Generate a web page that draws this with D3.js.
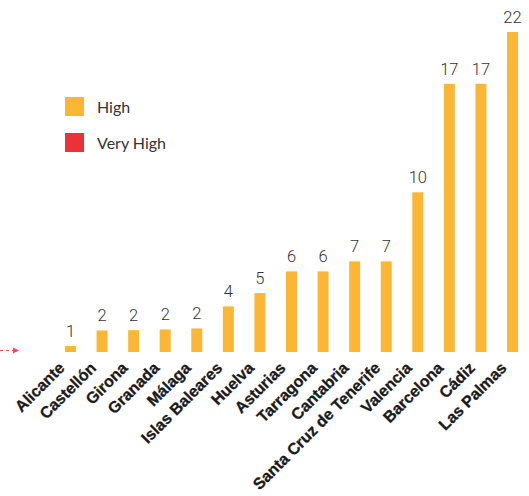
<!DOCTYPE html>
<html>
<head>
<meta charset="utf-8">
<script src="https://cdn.jsdelivr.net/npm/d3@7"></script>
<style>
  body { margin: 0; background: #fff; }
  #chart { width: 529px; height: 496px; }
</style>
</head>
<body>
<div id="chart"></div>
<script>
// provinces, the count printed over each bar, and the bar height as drawn
const provinces = ['Alicante', 'Castellón', 'Girona', 'Granada', 'Málaga', 'Islas Baleares', 'Huelva',
    'Asturias', 'Tarragona', 'Cantabria', 'Santa Cruz de Tenerife', 'Valencia', 'Barcelona', 'Cádiz', 'Las Palmas'];
const counts = [1, 2, 2, 2, 2, 4, 5, 6, 6, 7, 7, 10, 17, 17, 22];
const barValues = [0.41, 1.48, 1.5, 1.55, 1.62, 3.13, 4.05, 5.54, 5.54, 6.23, 6.23, 10.98, 18.44, 18.44, 22];
const legendLabels = ['High', 'Very High'];
const legendColors = ['#FBB733', '#E93339'];

const width = 529, height = 496;
const baseY = 352;

const svg = d3.select('#chart').append('svg')
    .attr('width', width).attr('height', height);

// scales
const xScale = d3.scaleBand().domain(provinces).range([54.7, 528.3])
    .paddingInner(0.652).paddingOuter(0.326);
const yScale = d3.scaleLinear().domain([0, 22]).range([baseY, 32]);

// bars
svg.append('g').selectAll('rect').data(provinces).enter().append('rect')
    .attr('x', function (d) { return xScale(d); })
    .attr('y', function (d, i) { return yScale(barValues[i]); })
    .attr('width', xScale.bandwidth())
    .attr('height', function (d, i) { return baseY - yScale(barValues[i]); })
    .attr('fill', legendColors[0]);

// numbers over the bars
svg.append('g').selectAll('text').data(provinces).enter().append('text')
    .attr('x', function (d) { return xScale(d) + xScale.bandwidth() / 2; })
    .attr('y', function (d, i) { return yScale(barValues[i]) - 9; })
    .attr('text-anchor', 'middle')
    .style('font-family', 'Roboto, sans-serif')
    .style('font-weight', 300)
    .style('font-size', '16.5px')
    .style('fill', '#333')
    .text(function (d, i) { return counts[i]; });

// x axis, rotated labels, no line
const xAxis = d3.axisBottom(xScale).tickSize(0).tickPadding(0);
const gx = svg.append('g').attr('transform', 'translate(0,' + baseY + ')').call(xAxis);
gx.select('.domain').remove();
gx.selectAll('text')
    .attr('x', 0).attr('y', 0).attr('dy', 0)
    .attr('transform', 'translate(-5,17) rotate(-45)')
    .style('text-anchor', 'end')
    .style('font-family', '"Liberation Sans", Arial, sans-serif')
    .style('font-weight', 700)
    .style('font-size', '16px')
    .style('stroke', '#1a1a1a')
    .style('stroke-width', 0.3)
    .style('fill', '#1a1a1a');

// legend
const legend = svg.append('g').selectAll('g').data(legendLabels).enter().append('g')
    .attr('transform', function (d, i) { return 'translate(65,' + (97 + i * 36) + ')'; });
legend.append('rect').attr('width', 19).attr('height', 19)
    .attr('fill', function (d, i) { return legendColors[i]; });
legend.append('text').attr('x', 32).attr('y', 15.5)
    .style('font-family', 'Lato, sans-serif')
    .style('font-size', '16px')
    .style('fill', '#333')
    .text(function (d) { return d; });

// dashed red marker on the left edge
const marker = svg.append('g').attr('transform', 'translate(0,' + (baseY - 1.5) + ')');
marker.append('line').attr('x1', 0).attr('x2', 14).attr('y1', 0).attr('y2', 0)
    .attr('stroke', '#EE4A5A').attr('stroke-width', 1.2).attr('stroke-dasharray', '3,3');
marker.append('path').attr('d', 'M13,-3L19,0L13,3Z').attr('fill', '#EE4A5A');
</script>
</body>
</html>
